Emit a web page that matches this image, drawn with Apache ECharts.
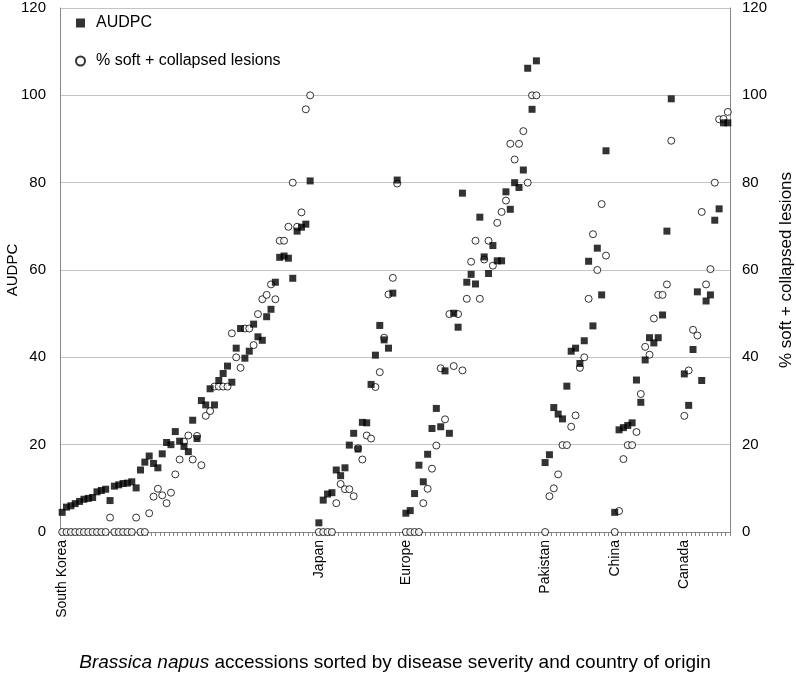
<!DOCTYPE html>
<html>
<head>
<meta charset="utf-8">
<script src="https://cdn.jsdelivr.net/npm/echarts@6/dist/echarts.min.js"></script>
<style>
  html, body { margin: 0; padding: 0; background: #fff; }
  #chart { width: 796px; height: 673px; }
</style>
</head>
<body>
<div id="chart"></div>
<script>
// country groups, in the order they appear along the x axis
const groupNames = ['South Korea', 'Japan', 'Europe', 'Pakistan', 'China', 'Canada']
// empty category slots before each group
const gapBefore = [0, 1, 1, 1, 1, 2]

const audpcSouthKorea = [4.5, 5.7, 6.0, 6.5, 7.0, 7.5, 7.7, 7.9, 9.2, 9.5, 9.8, 7.2, 10.5, 10.8, 11.1, 11.2, 11.5, 10.1, 14.2, 16.0,
  17.4, 15.7, 14.7, 17.9, 20.5, 20.0, 23.0, 20.8, 19.6, 18.4, 25.6, 21.4, 30.1, 29.1, 32.8, 29.1, 34.7, 36.3, 38.0, 34.3,
  42.1, 46.6, 39.8, 41.4, 47.6, 44.7, 43.9, 49.3, 51.0, 57.2, 62.9, 63.2, 62.7, 58.1, 68.9, 69.8, 70.5, 80.4]
const lesionsSouthKorea = [0, 0, 0, 0, 0, 0, 0, 0, 0, 0, 0, 3.3, 0, 0, 0, 0, 0, 3.3, 0, 0,
  4.3, 8.1, 9.9, 8.4, 6.6, 9.0, 13.2, 16.6, 20.7, 22.1, 16.6, 22.0, 15.3, 26.6, 27.7, 33.3, 33.3, 33.3, 33.3, 45.5,
  40.0, 37.6, 46.6, 46.6, 42.8, 49.9, 53.3, 54.3, 56.7, 53.3, 66.7, 66.7, 69.9, 80.0, 69.9, 73.2, 96.8, 100]

const audpcJapan = [2.1, 7.3, 8.7, 9.0, 14.2, 12.9, 14.7, 19.9, 22.6, 19.0, 25.1, 25.0, 33.8, 40.5, 47.3, 44.0, 42.1, 54.7, 80.6]
const lesionsJapan = [0, 0, 0, 0, 6.6, 11.0, 9.8, 9.8, 8.2, 19.2, 16.6, 22.1, 21.4, 33.2, 36.6, 44.5, 54.4, 58.2, 79.8]

const audpcEurope = [4.3, 4.9, 8.8, 15.3, 11.5, 17.8, 23.7, 28.3, 24.1, 36.9, 22.6, 50.1, 46.9, 77.6, 57.2, 59.0, 56.8, 72.1,
  63.0, 59.2, 65.6, 62.1, 62.1, 77.9, 73.9, 80.0, 78.9, 82.9, 106.2, 96.8, 107.9]
const lesionsEurope = [0, 0, 0, 0, 6.6, 9.9, 14.5, 19.8, 37.5, 25.8, 49.9, 38.0, 49.9, 37.0, 53.4, 61.9, 66.7, 53.4,
  62.4, 66.7, 61.0, 70.8, 73.3, 75.9, 88.9, 85.3, 88.9, 91.8, 80.0, 100, 100]

const audpcPakistan = [15.9, 17.7, 28.5, 27.0, 25.9, 33.4, 41.4, 42.1, 38.6, 43.8, 62.0, 47.2, 65.0, 54.3, 87.3]
const lesionsPakistan = [0, 8.2, 10.0, 13.2, 19.9, 19.9, 24.1, 26.7, 37.6, 40.0, 53.4, 68.2, 60.0, 75.1, 63.3]

const audpcChina = [4.5, 23.4, 23.9, 24.4, 25.0, 34.8, 29.7, 39.4, 44.5, 43.3, 44.5, 49.7, 68.9, 99.2]
const lesionsChina = [0, 4.8, 16.7, 19.9, 19.9, 22.9, 31.6, 42.4, 40.6, 48.9, 54.3, 54.3, 56.7, 89.6]

const audpcCanada = [36.2, 29.0, 41.8, 55.0, 34.7, 52.9, 54.3, 71.4, 74.0, 93.7, 93.7]
const lesionsCanada = [26.6, 37.0, 46.3, 45.0, 73.3, 56.7, 60.2, 80.0, 94.5, 94.6, 96.2]

const audpcGroups = [audpcSouthKorea, audpcJapan, audpcEurope, audpcPakistan, audpcChina, audpcCanada]
const lesionGroups = [lesionsSouthKorea, lesionsJapan, lesionsEurope, lesionsPakistan, lesionsChina, lesionsCanada]

const yTicks = { min: 0, max: 120, interval: 20 }

// flatten groups into one category axis, label only on the first accession
const categories = []
const audpc = []
const lesions = []
groupNames.forEach((name, g) => {
  for (let k = 0; k < gapBefore[g]; k++) {
    categories.push('')
    audpc.push(null)
    lesions.push(null)
  }
  audpcGroups[g].forEach((v, k) => {
    categories.push(k === 0 ? name : '')
    audpc.push(v)
    lesions.push(lesionGroups[g][k])
  })
})
const catIds = categories.map((c, i) => String(i))

const font = 'Liberation Sans, Arial, sans-serif'
const axisGrey = '#868686'

const chart = echarts.init(document.getElementById('chart'))
const option = {
  animation: false,
  textStyle: { fontFamily: font },
  grid: { left: 60, right: 66, top: 8, bottom: 141, containLabel: false, outerBoundsMode: 'none' },
  legend: {
    orient: 'vertical',
    left: 70,
    top: 10,
    itemGap: 22,
    itemWidth: 9,
    itemHeight: 9,
    textStyle: { fontSize: 16, color: '#000', fontFamily: font, padding: [0, 0, 0, 6] },
    data: ['AUDPC', '% soft + collapsed lesions'],
  },
  xAxis: {
    type: 'category',
    data: catIds,
    boundaryGap: true,
    axisLine: { lineStyle: { color: axisGrey } },
    axisTick: { show: true, interval: 0, length: 4, lineStyle: { color: axisGrey, width: 1 } },
    axisLabel: {
      interval: 0,
      rotate: 90,
      margin: 8,
      fontSize: 14,
      color: '#000',
      formatter: v => categories[+v],
    },
    name: '{i|Brassica napus} accessions sorted by disease severity and country of origin',
    nameLocation: 'middle',
    nameGap: 121,
    nameMoveOverlap: false,
    nameTextStyle: {
      fontSize: 19,
      color: '#000',
      rich: { i: { fontStyle: 'italic', fontSize: 19, color: '#000' } },
    },
  },
  yAxis: [
    {
      type: 'value',
      ...yTicks,
      name: 'AUDPC',
      nameLocation: 'middle',
      nameGap: 40,
      nameMoveOverlap: false,
      nameTextStyle: { fontSize: 15, color: '#000' },
      axisLine: { show: true, lineStyle: { color: axisGrey } },
      axisTick: { show: false },
      axisLabel: { fontSize: 15, color: '#000', margin: 14 },
      splitLine: { lineStyle: { color: '#c4c4c4' } },
    },
    {
      type: 'value',
      position: 'right',
      ...yTicks,
      name: '% soft + collapsed lesions',
      nameLocation: 'middle',
      nameRotate: 90,
      nameGap: 48,
      nameMoveOverlap: false,
      nameTextStyle: { fontSize: 17, color: '#000' },
      axisLine: { show: true, lineStyle: { color: axisGrey } },
      axisTick: { show: false },
      axisLabel: { fontSize: 15, color: '#000', margin: 12 },
      splitLine: { show: false },
    },
  ],
  series: [
    {
      name: 'AUDPC',
      type: 'scatter',
      symbol: 'rect',
      symbolSize: 7,
      yAxisIndex: 0,
      itemStyle: { color: '#000' },
      data: audpc,
      z: 3,
    },
    {
      name: '% soft + collapsed lesions',
      type: 'scatter',
      symbol: 'circle',
      symbolSize: 7,
      yAxisIndex: 1,
      itemStyle: { color: '#fff', borderColor: '#000', borderWidth: 1 },
      data: lesions,
      z: 2,
    },
  ],
}
chart.setOption(option)
</script>
</body>
</html>
